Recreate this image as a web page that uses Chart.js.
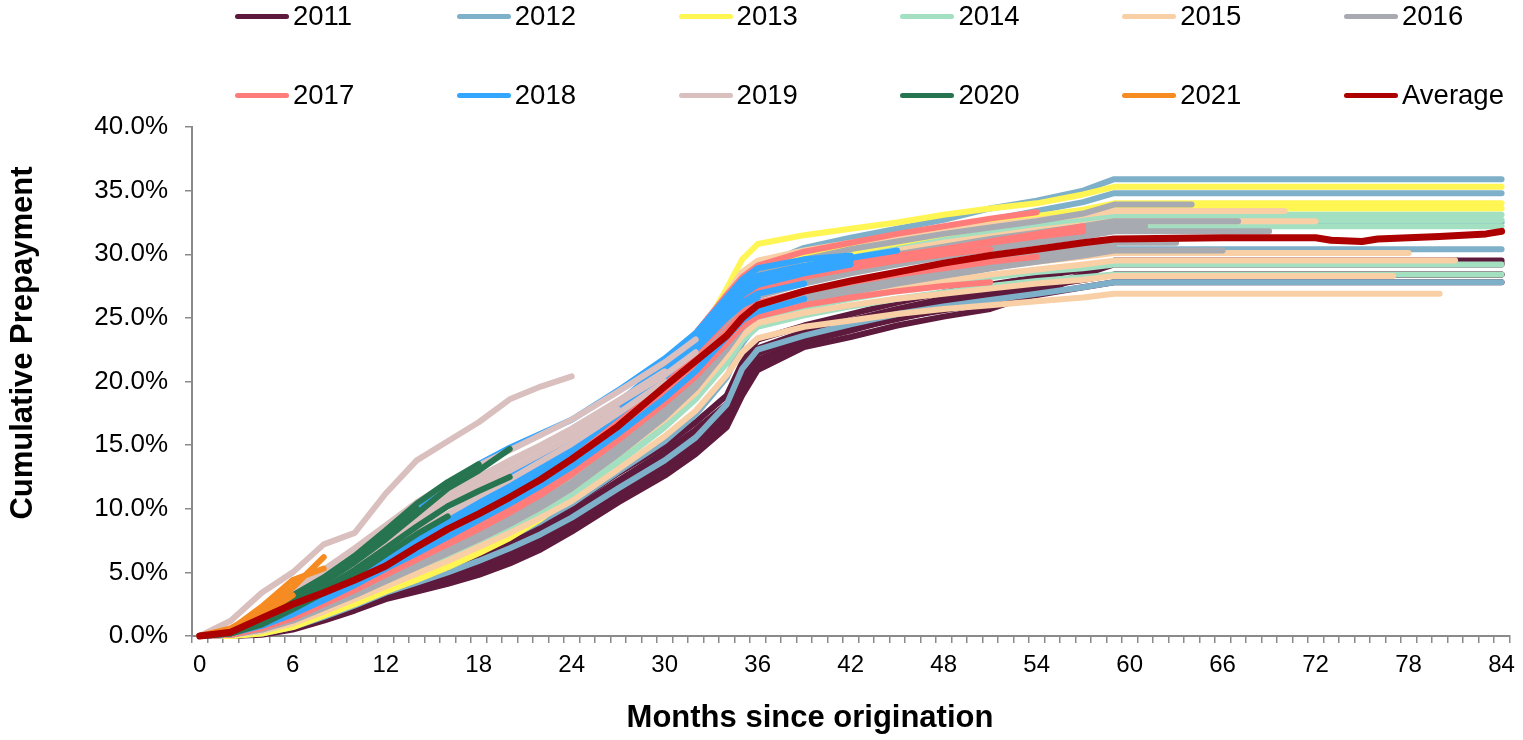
<!DOCTYPE html>
<html>
<head>
<meta charset="utf-8">
<script src="https://cdn.jsdelivr.net/npm/chart.js@4.4.0/dist/chart.umd.min.js"></script>
<style>
  html, body { margin: 0; padding: 0; background: #fff; }
  #wrap { position: relative; width: 1523px; height: 740px; }
  #legend { position: absolute; left: 0; top: 0; width: 1523px; height: 120px;
            font-family: "Liberation Sans", Arial, sans-serif; font-size: 27.5px; color: #000; }
  .item { position: absolute; display: flex; align-items: center; height: 32px; white-space: nowrap; }
  .swatch { width: 54px; height: 5px; border-radius: 3px; margin-right: 4px; }
</style>
</head>
<body>
<div id="wrap">
  <canvas id="chart" width="1523" height="740"></canvas>
  <div id="legend"></div>
</div>
<script>
const sampleMonths = [0, 2, 4, 6, 8, 10, 12, 14, 16, 18, 20, 22, 24, 27, 30, 32, 34, 35, 36, 39, 42, 45, 48, 51, 54, 57, 59];

const monthCategories = Array.from({ length: 85 }, (_, i) => i);
const xTickLabels = [0, 6, 12, 18, 24, 30, 36, 42, 48, 54, 60, 66, 72, 78, 84];

const yearLabels = ['2011', '2012', '2013', '2014', '2015', '2016', '2017', '2018', '2019', '2020', '2021'];
const yearColors = ['#5E1A3C', '#7FB0C9', '#FFF553', '#A3E0C2', '#F9CFA6', '#A7AAB0',
                    '#FF7C7A', '#33A6FF', '#DABFBF', '#277550', '#F68B22'];

// cumulative prepayment (%) per vintage, one row per vintage
const rows2011 = [
    [0, 0, 0.1, 0.5, 1.2, 2.0, 2.9, 3.5, 4.1, 4.8, 5.7, 6.8, 8.2, 10.5, 12.6, 14.3, 16.4, 18.9, 20.9, 22.7, 23.5, 24.4, 25.1, 25.7, 26.9, 28.3, 29.5],
    [0, 0, 0.2, 0.7, 1.5, 2.4, 3.3, 4.0, 4.7, 5.5, 6.5, 7.6, 9.0, 11.3, 13.5, 15.2, 17.3, 19.9, 21.7, 23.2, 24.1, 24.9, 25.7, 26.4, 27.3, 28.4, 29.2],
    [0, 0.1, 0.3, 0.9, 1.8, 2.8, 3.7, 4.5, 5.3, 6.2, 7.2, 8.4, 9.8, 12.2, 14.5, 16.2, 18.2, 20.8, 22.6, 23.9, 24.8, 25.7, 26.5, 27.0, 27.5, 28.0, 28.4],
    [0, 0, 0.2, 0.6, 1.3, 2.2, 3.1, 3.8, 4.5, 5.2, 6.1, 7.2, 8.6, 10.9, 13.1, 14.8, 16.9, 19.4, 21.3, 23.1, 24.0, 25.0, 25.6, 26.2, 26.8, 27.4, 27.8],
    [0, 0, 0.2, 0.8, 1.6, 2.6, 3.5, 4.3, 5.1, 5.9, 6.9, 8.0, 9.4, 11.8, 14.0, 15.7, 17.8, 20.3, 22.2, 23.6, 24.5, 25.4, 26.1, 26.7, 27.4, 28.0, 28.4],
    [0, 0.1, 0.4, 1.0, 2.0, 3.0, 3.9, 4.8, 5.6, 6.5, 7.6, 8.8, 10.3, 12.8, 15.0, 16.8, 18.9, 21.5, 23.3, 24.4, 25.3, 26.2, 27.0, 27.6, 28.2, 28.8, 29.3]
];
const rows2012 = [
    [0, 0.1, 0.6, 1.4, 2.4, 3.5, 4.6, 5.7, 6.8, 7.9, 9.2, 10.6, 12.2, 14.9, 18.0, 20.5, 23.8, 27.0, 29.0, 30.5, 31.3, 32.0, 32.7, 33.6, 34.2, 35.0, 35.9],
    [0, 0.1, 0.5, 1.2, 2.2, 3.2, 4.3, 5.3, 6.3, 7.4, 8.6, 9.9, 11.4, 14.1, 17.2, 19.7, 23.0, 26.2, 28.3, 29.6, 30.5, 31.2, 31.9, 32.7, 33.4, 34.1, 34.8],
    [0, 0, 0.2, 0.7, 1.5, 2.4, 3.4, 4.2, 5.0, 5.9, 6.9, 8.0, 9.3, 11.6, 13.8, 15.6, 18.2, 21.0, 22.5, 23.6, 24.5, 25.3, 25.9, 26.4, 26.9, 27.4, 27.8],
    [0, 0.1, 0.4, 1.0, 1.9, 2.9, 3.9, 4.8, 5.7, 6.7, 7.8, 9.0, 10.4, 12.9, 15.3, 17.4, 20.3, 23.0, 24.6, 25.8, 26.7, 27.5, 28.2, 28.9, 29.5, 30.0, 30.4],
    [0, 0.1, 0.4, 1.1, 2.0, 3.0, 4.1, 5.1, 6.1, 7.1, 8.3, 9.6, 11.1, 13.8, 16.7, 19.0, 22.2, 25.0, 26.8, 28.0, 28.9, 29.6, 30.3, 31.0, 31.6, 32.1, 32.5]
];
const rows2013 = [
    [0, 0, 0.3, 0.8, 1.7, 2.6, 3.6, 4.6, 5.6, 6.7, 8.0, 9.6, 11.6, 15.2, 19.8, 23.0, 27.3, 29.6, 30.8, 31.5, 32.0, 32.5, 33.1, 33.6, 34.0, 34.7, 35.3],
    [0, 0, 0.2, 0.7, 1.6, 2.5, 3.5, 4.4, 5.4, 6.5, 7.7, 9.2, 11.0, 14.3, 18.4, 21.3, 25.0, 27.6, 29.0, 30.0, 30.7, 31.3, 31.9, 32.5, 33.0, 33.5, 34.0],
    [0, 0, 0.3, 0.8, 1.7, 2.7, 3.8, 4.8, 5.8, 6.9, 8.2, 9.6, 11.3, 14.4, 17.9, 20.5, 24.0, 26.8, 28.3, 29.4, 30.1, 30.8, 31.4, 32.0, 32.6, 33.1, 33.6]
];
const rows2014 = [
    [0, 0.2, 0.7, 1.5, 2.6, 3.8, 5.0, 6.1, 7.3, 8.5, 9.8, 11.2, 12.8, 15.6, 18.8, 21.2, 24.5, 26.6, 27.8, 28.9, 29.7, 30.4, 31.1, 31.7, 32.2, 32.7, 33.1],
    [0, 0.1, 0.6, 1.4, 2.4, 3.6, 4.8, 5.9, 7.0, 8.2, 9.5, 10.9, 12.4, 15.2, 18.4, 20.8, 24.0, 26.2, 27.4, 28.5, 29.3, 30.0, 30.7, 31.3, 31.8, 32.3, 32.7],
    [0, 0.1, 0.6, 1.3, 2.3, 3.5, 4.6, 5.7, 6.8, 8.0, 9.2, 10.6, 12.1, 14.9, 18.0, 20.4, 23.6, 25.8, 27.0, 28.1, 28.9, 29.6, 30.3, 30.9, 31.4, 31.8, 32.2],
    [0, 0.1, 0.4, 1.0, 2.0, 3.0, 4.1, 5.1, 6.1, 7.2, 8.3, 9.6, 11.0, 13.6, 16.4, 18.6, 21.5, 23.6, 24.8, 25.8, 26.5, 27.1, 27.7, 28.2, 28.6, 28.9, 29.2],
    [0, 0.1, 0.5, 1.1, 2.1, 3.2, 4.3, 5.3, 6.4, 7.5, 8.6, 9.9, 11.3, 13.9, 16.6, 18.7, 21.4, 23.2, 24.3, 25.2, 25.9, 26.5, 27.0, 27.5, 27.9, 28.2, 28.4]
];
const rows2015 = [
    [0, 0.2, 0.8, 1.7, 2.9, 4.1, 5.4, 6.7, 8.0, 9.3, 10.8, 12.3, 14.2, 17.3, 20.8, 23.4, 26.9, 28.6, 29.5, 30.3, 30.9, 31.4, 31.9, 32.3, 32.7, 33.1, 33.4],
    [0, 0.2, 0.7, 1.6, 2.7, 3.9, 5.1, 6.4, 7.6, 8.9, 10.3, 11.8, 13.5, 16.5, 19.8, 22.3, 25.5, 27.2, 28.2, 29.0, 29.7, 30.3, 30.9, 31.4, 31.9, 32.3, 32.6],
    [0, 0.1, 0.6, 1.4, 2.4, 3.5, 4.7, 5.9, 7.0, 8.2, 9.5, 10.9, 12.5, 15.3, 18.3, 20.6, 23.6, 25.2, 26.2, 27.0, 27.6, 28.1, 28.6, 29.0, 29.4, 29.8, 30.1],
    [0, 0.1, 0.5, 1.2, 2.2, 3.2, 4.3, 5.4, 6.5, 7.6, 8.8, 10.1, 11.6, 14.3, 17.0, 19.1, 22.0, 23.6, 24.6, 25.4, 26.0, 26.5, 26.9, 27.3, 27.7, 28.0, 28.3],
    [0, 0.1, 0.4, 1.0, 1.9, 2.9, 3.9, 4.9, 5.9, 7.0, 8.1, 9.3, 10.6, 13.1, 15.7, 17.7, 20.5, 22.3, 23.4, 24.3, 24.8, 25.3, 25.7, 26.0, 26.3, 26.6, 26.9],
    [0, 0.1, 0.5, 1.3, 2.3, 3.4, 4.5, 5.6, 6.7, 7.9, 9.1, 10.5, 12.0, 14.8, 17.6, 19.8, 22.8, 24.4, 25.4, 26.3, 26.9, 27.4, 27.9, 28.4, 28.8, 29.2, 29.5]
];
const rows2016 = [
    [0, 0.2, 0.8, 1.7, 2.9, 4.1, 5.4, 6.6, 7.9, 9.2, 10.6, 12.1, 13.8, 16.8, 20.1, 22.6, 25.8, 27.5, 28.5, 29.6, 30.4, 31.0, 31.6, 32.1, 32.6, 33.2, 33.9],
    [0, 0.2, 0.7, 1.6, 2.7, 3.9, 5.1, 6.3, 7.5, 8.8, 10.1, 11.6, 13.2, 16.1, 19.3, 21.7, 24.8, 26.5, 27.5, 28.5, 29.3, 30.0, 30.6, 31.2, 31.7, 32.2, 32.6],
    [0, 0.1, 0.6, 1.4, 2.5, 3.6, 4.8, 6.0, 7.2, 8.4, 9.7, 11.1, 12.7, 15.6, 18.7, 21.0, 24.0, 25.7, 26.7, 27.7, 28.5, 29.2, 29.8, 30.4, 30.9, 31.4, 31.8],
    [0, 0.1, 0.6, 1.3, 2.3, 3.4, 4.6, 5.7, 6.8, 8.0, 9.2, 10.6, 12.1, 14.9, 17.9, 20.2, 23.2, 24.9, 25.9, 26.9, 27.6, 28.3, 28.9, 29.5, 30.0, 30.5, 30.9],
    [0, 0.1, 0.5, 1.2, 2.2, 3.2, 4.3, 5.4, 6.5, 7.6, 8.8, 10.1, 11.6, 14.3, 17.2, 19.5, 22.5, 24.2, 25.3, 26.3, 27.0, 27.7, 28.3, 28.9, 29.4, 29.9, 30.3],
    [0, 0.2, 0.7, 1.5, 2.6, 3.8, 5.0, 6.2, 7.4, 8.6, 9.9, 11.3, 12.9, 15.8, 19.0, 21.4, 24.4, 26.1, 27.1, 28.1, 28.9, 29.6, 30.2, 30.8, 31.3, 31.8, 32.2],
    [0, 0.1, 0.5, 1.3, 2.3, 3.4, 4.5, 5.6, 6.7, 7.9, 9.1, 10.4, 11.9, 14.6, 17.5, 19.8, 22.8, 24.5, 25.6, 26.6, 27.3, 28.0, 28.6, 29.2, 29.7, 30.2, 30.6]
];
const rows2017 = [
    [0, 0.2, 0.9, 1.9, 3.1, 4.4, 5.8, 7.1, 8.5, 9.9, 11.4, 13.0, 14.8, 17.9, 21.3, 23.8, 26.8, 28.2, 29.1, 30.2, 30.9, 31.6, 32.2, 32.8, 33.3],
    [0, 0.2, 0.8, 1.8, 3.0, 4.2, 5.5, 6.8, 8.1, 9.4, 10.8, 12.3, 14.0, 17.0, 20.3, 22.7, 25.5, 26.9, 27.7, 28.6, 29.3, 29.9, 30.4, 30.9, 31.4, 31.8],
    [0, 0.2, 0.8, 1.7, 2.8, 4.0, 5.3, 6.5, 7.8, 9.1, 10.5, 12.0, 13.6, 16.5, 19.7, 22.0, 24.9, 26.3, 27.2, 28.2, 28.9, 29.5, 30.0, 30.4],
    [0, 0.1, 0.6, 1.4, 2.5, 3.6, 4.8, 6.0, 7.2, 8.4, 9.7, 11.1, 12.7, 15.4, 18.3, 20.4, 23.0, 24.3, 25.1, 26.0, 26.6, 27.1, 27.5, 27.8],
    [0, 0.3, 1.0, 2.0, 3.2, 4.5, 5.9, 7.3, 8.7, 10.1, 11.6, 13.2, 15.0, 18.1, 21.5, 23.6, 26.0, 27.0, 27.6, 28.4, 29.0, 29.5, 30.0],
    [0, 0.2, 0.8, 1.8, 2.9, 4.1, 5.4, 6.7, 8.0, 9.3, 10.7, 12.2, 13.9, 16.8, 20.0, 22.3, 25.1, 26.5, 27.4, 28.4, 29.1, 29.8, 30.4, 31.0, 31.6, 32.2],
    [0, 0.2, 0.7, 1.6, 2.7, 3.9, 5.1, 6.3, 7.5, 8.8, 10.1, 11.5, 13.1, 15.9, 19.0, 21.2, 24.0, 25.4, 26.2, 27.1, 27.8, 28.4, 28.9, 29.4, 29.8]
];
const rows2018 = [
    [0, 0.3, 1.0, 2.1, 3.4, 4.8, 6.2, 7.6, 9.0, 10.5, 12.0, 13.6, 15.3, 18.3, 21.4, 23.6, 26.4, 27.6, 28.3, 29.1, 29.7, 30.3],
    [0, 0.3, 0.9, 1.9, 3.1, 4.4, 5.8, 7.1, 8.5, 9.9, 11.3, 12.8, 14.5, 17.4, 20.4, 22.6, 25.4, 26.8, 27.6, 28.5, 29.2],
    [0, 0.2, 0.8, 1.7, 2.8, 4.0, 5.3, 6.5, 7.8, 9.1, 10.4, 11.8, 13.3, 15.9, 18.7, 20.8, 23.5, 24.8, 25.5, 26.5],
    [0, 0.3, 1.1, 2.3, 3.7, 5.1, 6.6, 8.0, 9.5, 11.0, 12.5, 14.0, 15.6, 18.4, 21.0, 22.8, 25.0, 26.0, 26.6],
    [0, 0.4, 1.4, 2.8, 4.3, 6.0, 7.8, 9.8, 11.8, 13.5, 14.8, 15.9, 17.0, 19.3, 21.8, 23.8, 26.6, 28.0, 28.9, 29.6, 29.9],
    [0, 0.2, 0.9, 1.9, 3.1, 4.4, 5.8, 7.2, 8.6, 10.0, 11.5, 13.0, 14.6, 17.6, 20.8, 23.1, 26.0, 27.3, 28.0, 28.9, 29.5],
    [0, 0.3, 1.0, 2.0, 3.3, 4.6, 6.0, 7.4, 8.8, 10.2, 11.7, 13.2, 14.8, 17.6, 20.5, 22.5, 25.0, 26.2, 26.9, 27.7]
];
const rows2019 = [
    [0, 1.2, 3.4, 5.0, 7.2, 8.1, 11.2, 13.8, 15.3, 16.8, 18.6, 19.6, 20.4],
    [0, 0.6, 1.9, 3.5, 5.2, 6.9, 8.7, 10.5, 12.0, 13.4, 14.6, 15.8, 17.0, 19.2, 21.5, 23.3],
    [0, 0.5, 1.6, 3.1, 4.7, 6.3, 8.0, 9.6, 11.1, 12.5, 13.8, 15.0, 16.3, 18.5, 20.8],
    [0, 0.4, 1.4, 2.8, 4.3, 5.8, 7.4, 8.9, 10.3, 11.7, 13.0, 14.3, 15.6, 17.8],
    [0, 0.4, 1.2, 2.5, 3.9, 5.3, 6.8, 8.2, 9.6, 11.0, 12.3, 13.7, 15.1, 17.5, 20.0],
    [0, 0.5, 1.5, 2.9, 4.5, 6.1, 7.7, 9.3, 10.8, 12.2, 13.5, 14.8, 16.1, 18.3, 20.5, 22.3]
];
const rows2020 = [
    [0, 0.3, 1.2, 2.7, 4.2, 5.8, 7.6, 9.6, 11.6, 13.0, 14.7],
    [0, 0.4, 1.5, 3.2, 4.6, 6.3, 8.3, 10.4, 12.1, 13.5],
    [0, 0.2, 1.0, 2.3, 3.7, 5.2, 6.9, 8.6, 10.2, 11.4, 12.5],
    [0, 0.3, 1.3, 2.9, 4.4, 6.1, 8.0, 10.0],
    [0, 0.2, 0.9, 2.1, 3.4, 4.8, 6.4, 8.0, 9.4]
];
const rows2021 = [
    [0, 0.6, 2.0, 3.8, 6.2],
    [0, 0.5, 2.3, 4.4, 5.3],
    [0, 0.4, 1.6, 3.2]
];

// month up to which a seasoned vintage stays flat after month 59 (0 = no flat tail)
const tails2011 = [84, 84, 84, 84, 84, 84];
const tails2012 = [84, 84, 84, 84, 84];
const tails2013 = [84, 84, 84];
const tails2014 = [84, 84, 84, 84, 84];
const tails2015 = [70, 72, 78, 77, 80, 81];
const tails2016 = [64, 67, 69, 63, 66, 61, 0];

const yearRows = [rows2011, rows2012, rows2013, rows2014, rows2015, rows2016,
                  rows2017, rows2018, rows2019, rows2020, rows2021];
const yearTails = [tails2011, tails2012, tails2013, tails2014, tails2015, tails2016,
                   [], [], [], [], []];

const avgMonths = [0, 2, 4, 6, 8, 10, 12, 14, 16, 18, 20, 22, 24, 27, 30, 32, 34, 35, 36, 39, 42, 45, 48, 51, 54, 57, 59,
                   66, 72, 73, 75, 76, 80, 83, 84];
const avgValues = [0, 0.3, 1.4, 2.5, 3.4, 4.4, 5.5, 7.0, 8.4, 9.6, 10.9, 12.3, 13.9, 16.5, 19.6, 21.6, 23.6, 25.0, 26.0, 27.1, 27.9, 28.6, 29.3, 29.9, 30.4, 30.9, 31.2,
                   31.3, 31.3, 31.1, 31.0, 31.2, 31.4, 31.6, 31.8];

const xTitle = 'Months since origination';
const yTitle = 'Cumulative Prepayment';

const FONT = '"Liberation Sans", Arial, sans-serif';
Chart.defaults.font.family = FONT;
Chart.defaults.color = '#000';

const datasets = [];
yearRows.forEach((rows, y) => {
    rows.forEach((row, j) => {
        const pts = row.map((v, i) => ({ x: sampleMonths[i], y: v }));
        const tail = yearTails[y][j];
        if (tail && row.length === sampleMonths.length) {
            pts.push({ x: tail, y: row[row.length - 1] });
        }
        datasets.push({
            label: yearLabels[y],
            data: pts,
            borderColor: yearColors[y],
            borderWidth: 6
        });
    });
});
datasets.push({
    label: 'Average',
    data: avgMonths.map((m, i) => ({ x: m, y: avgValues[i] })),
    borderColor: '#AD0000',
    borderWidth: 7
});
// later series paint on top, like the original
datasets.forEach((d, i) => {
    d.order = datasets.length - i;
    d.pointRadius = 0;
    d.tension = 0;
    d.fill = false;
    d.clip = false;
    d.borderCapStyle = 'round';
    d.borderJoinStyle = 'round';
});

const axisTitles = {
    id: 'axisTitles',
    afterDraw(chart) {
        const ctx = chart.ctx;
        ctx.save();
        ctx.font = 'bold 31px ' + FONT;
        ctx.fillStyle = '#000';
        ctx.textAlign = 'center';
        ctx.textBaseline = 'middle';
        ctx.fillText(xTitle, 810, 718);
        ctx.translate(23, 343);
        ctx.rotate(-Math.PI / 2);
        ctx.fillText(yTitle, 0, 0);
        ctx.restore();
    }
};

new Chart(document.getElementById('chart'), {
    type: 'line',
    data: { labels: monthCategories, datasets: datasets },
    options: {
        responsive: false,
        animation: false,
        devicePixelRatio: 1,
        events: [],
        layout: { padding: { top: 127, right: 11, left: 0, bottom: 0 } },
        plugins: { legend: { display: false }, tooltip: { enabled: false } },
        scales: {
            x: {
                type: 'category',
                offset: true,
                afterFit: (scale) => { scale.height = 104; },
                grid: { offset: true, drawOnChartArea: false, drawTicks: true, tickLength: 7, color: '#8a8a8a', lineWidth: 1.5 },
                border: { color: '#8a8a8a', width: 2 },
                ticks: {
                    autoSkip: false,
                    maxRotation: 0,
                    padding: 8,
                    font: { size: 24 },
                    color: '#000',
                    callback: (value, index) => xTickLabels.includes(monthCategories[index]) ? String(monthCategories[index]) : ''
                }
            },
            y: {
                min: 0,
                max: 40,
                afterFit: (scale) => { scale.width = 192; },
                grid: { drawOnChartArea: false, drawTicks: true, tickLength: 7, color: '#8a8a8a', lineWidth: 1.5 },
                border: { color: '#8a8a8a', width: 2 },
                ticks: {
                    stepSize: 5,
                    padding: 17,
                    font: { size: 26 },
                    color: '#000',
                    callback: (v) => v.toFixed(1) + '%'
                }
            }
        }
    },
    plugins: [axisTitles]
});

// legend: two rows of six, fixed columns
const legendItems = yearLabels.map((l, i) => ({ label: l, color: yearColors[i] }));
legendItems.push({ label: 'Average', color: '#AD0000' });
const legendEl = document.getElementById('legend');
legendItems.forEach((it, i) => {
    const col = i % 6, row = Math.floor(i / 6);
    const div = document.createElement('div');
    div.className = 'item';
    div.style.left = (235 + col * 221.8) + 'px';
    div.style.top = (row === 0 ? 0 : 79) + 'px';
    div.innerHTML = '<span class="swatch" style="background:' + it.color + '"></span><span>' + it.label + '</span>';
    legendEl.appendChild(div);
});
</script>
</body>
</html>
